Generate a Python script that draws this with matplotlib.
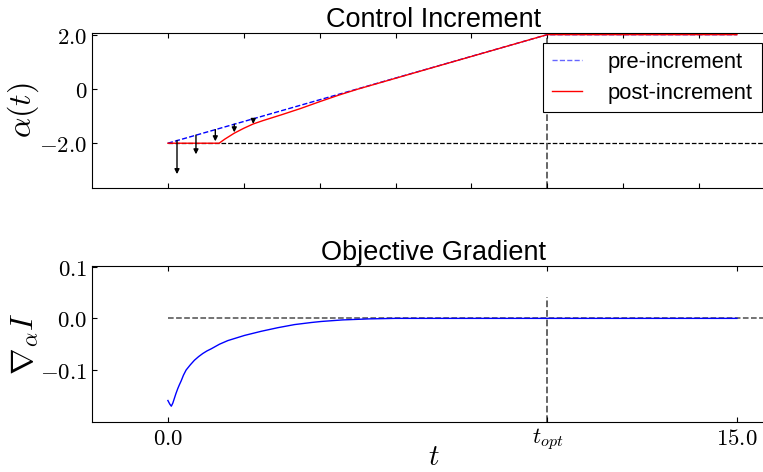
import matplotlib
matplotlib.use('Agg')
import matplotlib.pyplot as plt

plt.rcParams['mathtext.fontset'] = 'cm'
plt.rcParams['font.family'] = ['Liberation Sans', 'DejaVu Sans']
plt.rcParams['xtick.direction'] = 'in'
plt.rcParams['ytick.direction'] = 'in'
plt.rcParams['xtick.top'] = True
plt.rcParams['ytick.right'] = True

# control before / after the increment
t_pre = [0.0, 10.0, 15.0]
alpha_pre = [-2.0, 2.0, 2.0]
t_post = [0.0, 1.35, 1.5, 1.75, 2.0, 2.25, 2.5, 2.75, 3.0, 3.5, 4.0, 4.5,
          5.0, 10.0, 15.0]
alpha_post = [-2.0, -2.0, -1.85, -1.63, -1.45, -1.29, -1.17, -1.06, -0.95,
              -0.72, -0.47, -0.23, -0.01, 2.0, 2.0]

# increment arrows
arrow_t = [0.24, 0.74, 1.25, 1.75, 2.25]
arrow_start = [-1.9, -1.7, -1.5, -1.3, -1.1]
arrow_end = [-3.14, -2.41, -1.93, -1.6, -1.29]

# objective gradient
t_grad = [0.0, 0.05, 0.09, 0.13, 0.17, 0.21, 0.26, 0.30, 0.35, 0.41, 0.48,
          0.59, 0.70, 0.81, 0.92, 1.03, 1.14, 1.36, 1.58, 1.80, 2.02, 2.46,
          2.90, 3.34, 3.78, 4.04, 4.6, 5.3, 6.0, 10.0, 15.0]
grad = [-0.159, -0.166, -0.170, -0.164, -0.155, -0.146, -0.136, -0.129,
        -0.121, -0.110, -0.100, -0.090, -0.081, -0.074, -0.068, -0.063,
        -0.059, -0.050, -0.043, -0.038, -0.033, -0.025, -0.018, -0.012,
        -0.008, -0.006, -0.003, -0.001, 0.0, 0.0, 0.0]

t_opt = 10.0
x_ticks = [0.0, t_opt, 15.0]
x_ticklabels = ['$0.0$', '$t_{opt}$', '$15.0$']

fig = plt.figure(figsize=(7.63, 4.72), dpi=100)

########### control increment #############
ax1 = fig.add_axes([0.1206, 0.6017, 0.895, 0.3278])
ax1.plot(t_pre, alpha_pre, color='b', linestyle='--', lw=1, label='pre-increment')
ax1.plot(t_post, alpha_post, color='r', lw=1, label='post-increment')
ax1.hlines(-2.0, 0.0, 16.0, colors='k', linestyles='--', lw=0.9, zorder=1)
ax1.vlines(t_opt, -3.65, 2.0, colors='0.35', linestyles='--', lw=1.3, zorder=1)
for t, y0, y1 in zip(arrow_t, arrow_start, arrow_end):
    ax1.annotate('', xy=(t, y1), xytext=(t, y0),
                 arrowprops=dict(arrowstyle='-|>', color='k', lw=1,
                                 mutation_scale=7, shrinkA=0, shrinkB=0))
ax1.set_xlim(-2, 16)
ax1.set_ylim(-3.65, 2.05)
ax1.set_xticks(range(0, 16, 2))
ax1.set_xticklabels([])
ax1.set_yticks([-2.0, 0.0, 2.0])
ax1.set_yticklabels(['$-2.0$', '$0$', '$2.0$'], fontsize=16.5)
ax1.set_ylabel(r'$\alpha(t)$', fontsize=23)
ax1.yaxis.set_label_coords(-0.075, 0.5)
ax1.set_title('Control Increment', fontsize=19.5, pad=2)
leg = ax1.legend(loc='upper right', fontsize=15.8, fancybox=False,
                 edgecolor='k', framealpha=1, borderaxespad=0,
                 bbox_to_anchor=(761.5 / 763, 1 - 43 / 472),
                 bbox_transform=fig.transFigure,
                 handlelength=1.4, handletextpad=1.15, borderpad=0.4,
                 labelspacing=0.45)
leg.get_frame().set_linewidth(0.8)
leg.get_lines()[0].set_alpha(0.6)

########### objective gradient #############
ax2 = fig.add_axes([0.1206, 0.1066, 0.895, 0.3305])
ax2.plot(t_grad, grad, color='b', lw=1)
ax2.hlines(0.0, 0.0, 16.0, colors='0.3', linestyles='--', lw=1.1, zorder=1)
ax2.axvline(t_opt, ymax=0.8, color='0.35', linestyle='--', lw=1.3, zorder=1)
ax2.set_xlim(-2, 16)
ax2.set_ylim(-0.2, 0.102)
ax2.set_xticks(x_ticks)
ax2.set_xticklabels(x_ticklabels, fontsize=16.5)
ax2.set_yticks([-0.1, 0.0, 0.1])
ax2.set_yticklabels(['$-0.1$', '$0.0$', '$0.1$'], fontsize=16.5)
ax2.set_ylabel(r'$\nabla_\alpha I$', fontsize=23)
ax2.yaxis.set_label_coords(-0.075, 0.5)
ax2.set_xlabel('$t$', fontsize=21, labelpad=-7)
ax2.set_title('Objective Gradient', fontsize=19.5, pad=2)

fig.savefig('out.png', dpi=100)
